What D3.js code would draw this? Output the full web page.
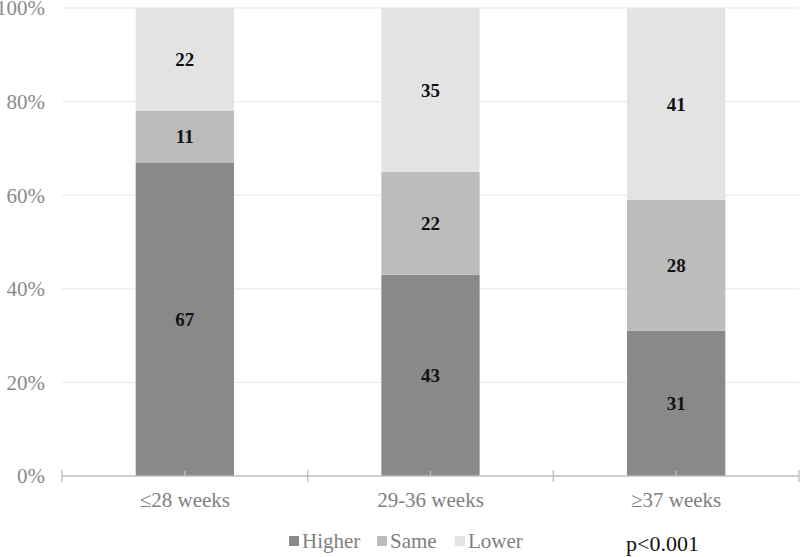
<!DOCTYPE html>
<html><head><meta charset="utf-8">
<script src="https://cdn.jsdelivr.net/npm/d3@7"></script>
<style>body{margin:0;background:#fff} svg text{font-family:"Liberation Serif","Times New Roman","DejaVu Serif",serif}</style>
</head><body>
<svg id="c" width="800" height="557"></svg>
<script>
const categories = ["≤28 weeks", "29-36 weeks", "≥37 weeks"];
const seriesNames = ["Higher", "Same", "Lower"];
const higher = [67, 43, 31];
const same = [11, 22, 28];
const lower = [22, 35, 41];
const yTicks = [0, 20, 40, 60, 80, 100];
const colors = ["#898989", "#bcbcbc", "#e3e3e3"];
const pText = "p<0.001";

const svg = d3.select("#c");
const W = 800, H = 557;
const m = {l: 62, r: 1, t: 8, b: 81};
const x = d3.scaleBand().domain(categories).range([m.l, W - m.r]).paddingInner(0.6).paddingOuter(0.3);
const xb = d3.scaleBand().domain(categories).range([m.l, W - m.r]);
const y = d3.scaleLinear().domain([0, 100]).range([H - m.b, m.t]);

svg.append("g").selectAll("line").data(yTicks.filter(d => d > 0)).join("line")
  .attr("x1", m.l).attr("x2", W - m.r)
  .attr("y1", d => y(d)).attr("y2", d => y(d))
  .attr("stroke", "#e6e6e6").attr("stroke-width", 1);

svg.append("g").selectAll("text").data(yTicks).join("text")
  .attr("x", 45).attr("y", d => y(d)).attr("dy", "0.35em")
  .attr("text-anchor", "end").attr("font-size", 21)
  .attr("fill", "#8a8a8a").text(d => d + "%");

const rows = categories.map((c, i) => ({cat: c, Higher: higher[i], Same: same[i], Lower: lower[i]}));
const stack = d3.stack().keys(seriesNames)(rows);

const g = svg.append("g");
stack.forEach((s, si) => {
  g.selectAll(null).data(s).join("rect")
    .attr("x", d => x(d.data.cat)).attr("width", x.bandwidth())
    .attr("y", d => y(d[1])).attr("height", d => y(d[0]) - y(d[1]))
    .attr("fill", colors[si]);
  g.selectAll(null).data(s).join("text")
    .attr("x", d => x(d.data.cat) + x.bandwidth() / 2)
    .attr("y", d => (y(d[0]) + y(d[1])) / 2).attr("dy", "0.35em")
    .attr("text-anchor", "middle").attr("font-weight", "bold")
    .attr("font-size", 19).attr("fill", "#111").text(d => d[1] - d[0]);
});

const ax = svg.append("g");
ax.append("line").attr("x1", m.l).attr("x2", W - m.r).attr("y1", y(0)).attr("y2", y(0))
  .attr("stroke", "#bdbdbd").attr("stroke-width", 1.3);
const bounds = categories.map(c => xb(c)).concat([xb(categories[categories.length-1]) + xb.bandwidth()]);
ax.selectAll(null).data(bounds).join("line")
  .attr("x1", d => d).attr("x2", d => d).attr("y1", y(0) - 6).attr("y2", y(0) + 6)
  .attr("stroke", "#bdbdbd").attr("stroke-width", 1.3);
ax.selectAll(null).data(categories).join("line")
  .attr("x1", d => x(d) + x.bandwidth()/2).attr("x2", d => x(d) + x.bandwidth()/2)
  .attr("y1", y(0)).attr("y2", y(0) - 5)
  .attr("stroke", "#bdbdbd").attr("stroke-width", 1.3);
ax.selectAll(null).data(categories).join("text")
  .attr("x", d => x(d) + x.bandwidth()/2).attr("y", y(0) + 24).attr("dy", "0.35em")
  .attr("text-anchor", "middle").attr("font-size", 21)
  .attr("fill", "#808080").text(d => d);

const lx = [289, 377, 455];
const lg = svg.append("g");
seriesNames.forEach((n, i) => {
  lg.append("rect").attr("x", lx[i]).attr("y", 536).attr("width", 10).attr("height", 10).attr("fill", colors[i]);
  lg.append("text").attr("x", lx[i] + 13).attr("y", 541).attr("dy", "0.35em")
    .attr("font-size", 21).attr("fill", "#808080").text(n);
});
svg.append("text").attr("x", 626).attr("y", 543).attr("dy", "0.35em")
  .attr("font-size", 22).attr("fill", "#111").text(pText);
</script>
</body></html>
